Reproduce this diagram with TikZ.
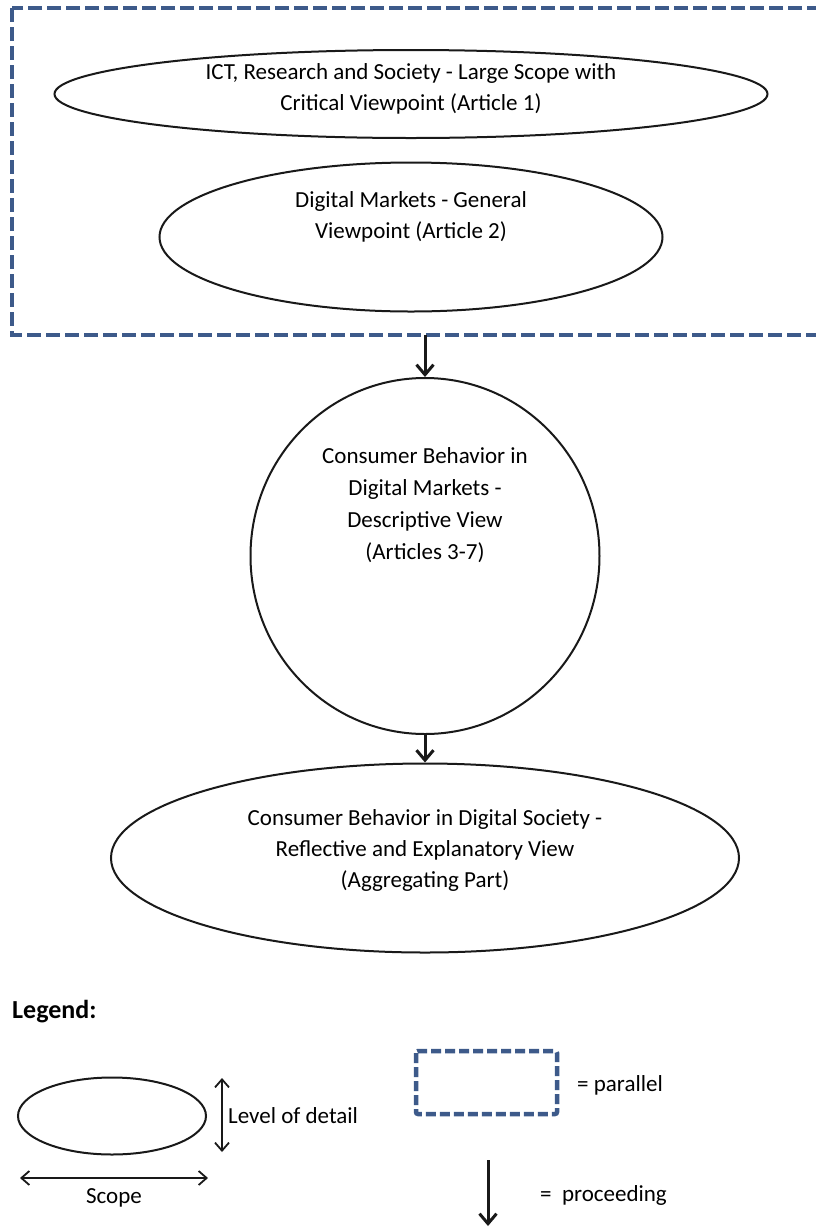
\documentclass[tikz,border=0pt]{standalone}
\usepackage{fontspec}
\setmainfont{Carlito}
\usetikzlibrary{shapes.geometric,arrows.meta}
\definecolor{dashblue}{RGB}{61,90,138}
\tikzset{
  oval/.style={draw=black!90,line width=2pt,ellipse,inner sep=0pt},
  ovaltext/.style={align=center,inner sep=0pt,font=\fontsize{23}{31}\selectfont},
  parbox/.style={draw=dashblue,line width=4pt,dash pattern=on 14pt off 5pt},
  procarrow/.style={draw=black!90,line width=3pt,-{Straight Barb[length=10pt,width=17pt,line width=3pt]}},
  legarrow/.style={draw=black!90,line width=1.8pt,{Straight Barb[length=8pt,width=14pt]}-{Straight Barb[length=8pt,width=14pt]}},
  legtext/.style={font=\fontsize{23}{27}\selectfont,inner sep=0pt}
}
\begin{document}
\begin{tikzpicture}[x=1pt,y=-1pt]
\useasboundingbox (0,0) rectangle (815,1227);
\fill[white] (0,0) rectangle (815,1227);
% parallel box
\draw[parbox] (12,8) rectangle (840,335);
\coordinate (boxbot) at (425,335);
% ovals
\node[oval,minimum width=713pt,minimum height=88pt] (e1) at (411,94) {};
\node[ovaltext] (e1t) at (411,89) {ICT, Research and Society - Large Scope with\\Critical Viewpoint (Article 1)};
\node[oval,minimum width=503pt,minimum height=149pt] (e2) at (411,237) {};
\node[ovaltext] (e2t) at (411,217) {Digital Markets - General\\Viewpoint (Article 2)};
\node[oval,minimum width=349pt,minimum height=356pt] (c) at (425,556) {};
\node[ovaltext,font=\fontsize{23}{32}\selectfont] (ct) at (425,505) {Consumer Behavior in\\Digital Markets -\\Descriptive View\\(Articles 3-7)};
\node[oval,minimum width=628pt,minimum height=189pt] (e3) at (425,858) {};
\node[ovaltext] (e3t) at (425,850) {Consumer Behavior in Digital Society -\\Reflective and Explanatory View\\(Aggregating Part)};
\draw[procarrow] (boxbot) -- (c.north);
\draw[procarrow] (c.south) -- (e3.north);
% legend
\node[legtext,anchor=west,font=\fontsize{26}{30}\selectfont\bfseries] (leg) at (12,1012) {Legend:};
\node[oval,minimum width=188pt,minimum height=77pt] (lell) at (112,1116) {};
\coordinate (vt) at (222,1078);
\coordinate (vb) at (222,1152);
\draw[legarrow] (vt) -- (vb);
\node[legtext,anchor=west] (lod) at (228,1116) {Level of detail};
\coordinate (hl) at (20,1178);
\coordinate (hr) at (208,1178);
\draw[legarrow] (hl) -- (hr);
\node[legtext] (scope) at (114,1198) {Scope};
\draw[parbox,line width=4.5pt,dash pattern=on 10pt off 4pt,rounded corners=2pt] (416,1051) rectangle (557,1114);
\node[legtext,anchor=west] (par) at (577,1085) {= parallel};
\coordinate (pt) at (488,1160);
\coordinate (pb) at (488,1226);
\draw[procarrow] (pt) -- (pb);
\node[legtext,anchor=west] (proc) at (540,1195) {=\ \ proceeding};
\end{tikzpicture}
\end{document}
